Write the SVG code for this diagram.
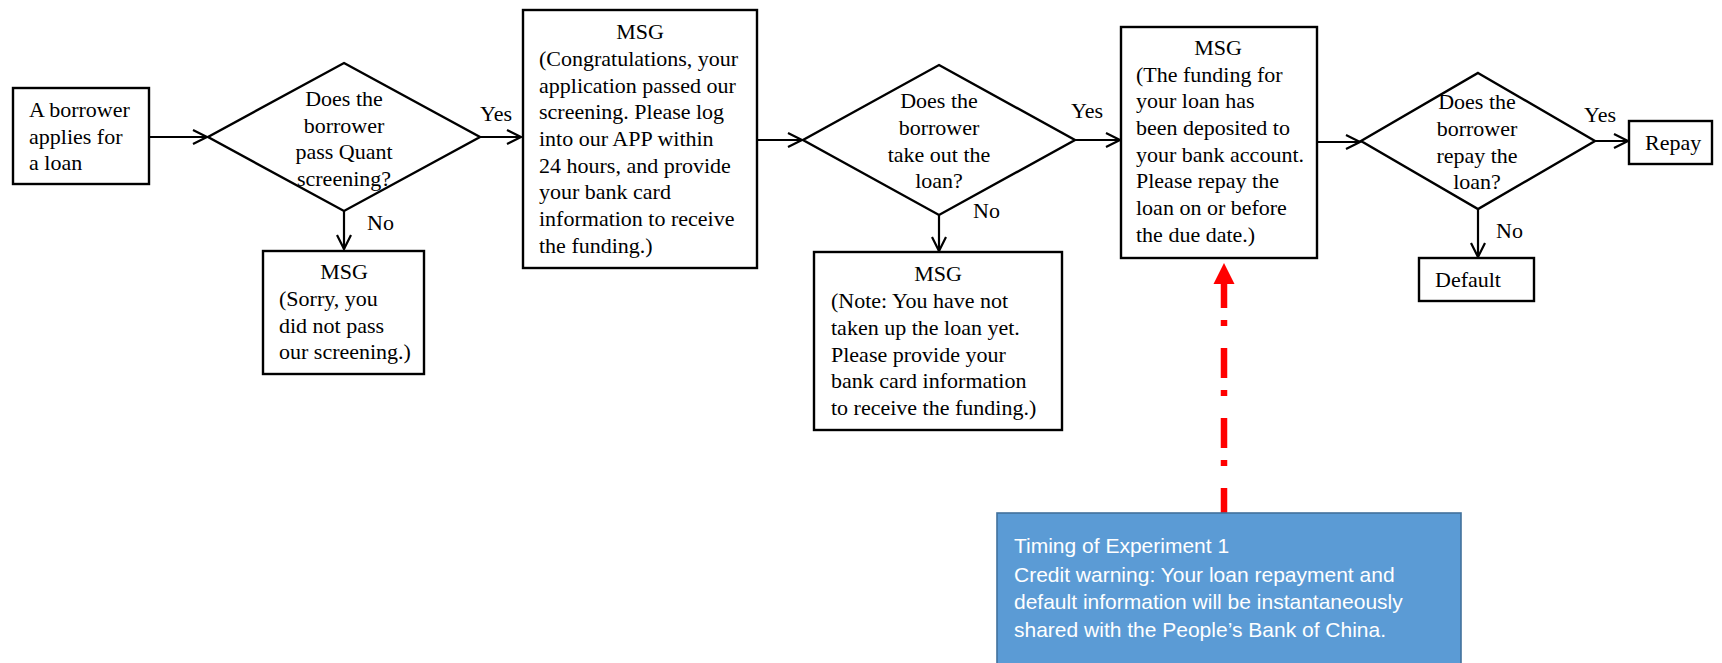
<svg xmlns="http://www.w3.org/2000/svg" width="1722" height="663" viewBox="0 0 1722 663">
<style>
.box{fill:#fff;stroke:#000;stroke-width:2.4}
.t{font-family:"Liberation Serif","Times New Roman",serif;font-size:22px;fill:#000}
.c{text-anchor:middle}
.ln{stroke:#000;stroke-width:2.2;fill:none}
.bt{font-family:"Liberation Sans",Arial,sans-serif;font-size:21px;fill:#fff}
</style>
<defs>
<marker id="ah" markerUnits="userSpaceOnUse" markerWidth="20" markerHeight="20" viewBox="-16 -10 20 20" refX="0" refY="0" orient="auto">
<path d="M-14,-7 L0,0 L-14,7" fill="none" stroke="#000" stroke-width="2.2"/>
</marker>
</defs>
<rect width="1722" height="663" fill="#fff"/>

<g id="connectors">
<path class="ln" d="M149,137 L207,137" marker-end="url(#ah)"/>
<path class="ln" d="M480,137 L521,137" marker-end="url(#ah)"/>
<path class="ln" d="M344,211 L344,249" marker-end="url(#ah)"/>
<path class="ln" d="M757,140 L802,140" marker-end="url(#ah)"/>
<path class="ln" d="M939,215 L939,251" marker-end="url(#ah)"/>
<path class="ln" d="M1075,140 L1120,140" marker-end="url(#ah)"/>
<path class="ln" d="M1317,142 L1360,142" marker-end="url(#ah)"/>
<path class="ln" d="M1595,141 L1628,141" marker-end="url(#ah)"/>
<path class="ln" d="M1478,209 L1478,257" marker-end="url(#ah)"/>
<g id="red-arrow">
<path d="M1224,283 L1224,513" stroke="#ff0000" stroke-width="6.5" fill="none" stroke-dasharray="30 12 6 22" stroke-dashoffset="5"/>
<polygon points="1224,263 1213.5,284 1234.5,284" fill="#ff0000"/>
</g>
</g>

<g id="start">
<rect class="box" x="13" y="88" width="136" height="96"/>
<text class="t" x="29" y="117">A borrower</text>
<text class="t" x="29" y="144">applies for</text>
<text class="t" x="29" y="170">a loan</text>
</g>

<g id="decision1">
<polygon class="box" points="344,63 480,137 344,211 208,137"/>
<text class="t c" x="344" y="106">Does the</text>
<text class="t c" x="344" y="133">borrower</text>
<text class="t c" x="344" y="159">pass Quant</text>
<text class="t c" x="344" y="186">screening?</text>
</g>
<text class="t" x="480" y="121">Yes</text>
<text class="t" x="367" y="230">No</text>

<g id="msg1">
<rect class="box" x="263" y="251" width="161" height="123"/>
<text class="t c" x="344" y="279">MSG</text>
<text class="t" x="279" y="306">(Sorry, you</text>
<text class="t" x="279" y="333">did not pass</text>
<text class="t" x="279" y="359">our screening.)</text>
</g>

<g id="msg2">
<rect class="box" x="523" y="10" width="234" height="258"/>
<text class="t c" x="640" y="39">MSG</text>
<text class="t" x="539" y="66">(Congratulations, your</text>
<text class="t" x="539" y="93">application passed our</text>
<text class="t" x="539" y="119">screening. Please log</text>
<text class="t" x="539" y="146">into our APP within</text>
<text class="t" x="539" y="173">24 hours, and provide</text>
<text class="t" x="539" y="199">your bank card</text>
<text class="t" x="539" y="226">information to receive</text>
<text class="t" x="539" y="253">the funding.)</text>
</g>

<g id="decision2">
<polygon class="box" points="939,65 1075,140 939,215 803,140"/>
<text class="t c" x="939" y="108">Does the</text>
<text class="t c" x="939" y="135">borrower</text>
<text class="t c" x="939" y="162">take out the</text>
<text class="t c" x="939" y="188">loan?</text>
</g>
<text class="t" x="1071" y="118">Yes</text>
<text class="t" x="973" y="218">No</text>

<g id="msg3">
<rect class="box" x="814" y="252" width="248" height="178"/>
<text class="t c" x="938" y="281">MSG</text>
<text class="t" x="831" y="308">(Note: You have not</text>
<text class="t" x="831" y="335">taken up the loan yet.</text>
<text class="t" x="831" y="362">Please provide your</text>
<text class="t" x="831" y="388">bank card information</text>
<text class="t" x="831" y="415">to receive the funding.)</text>
</g>

<g id="msg4">
<rect class="box" x="1121" y="27" width="196" height="231"/>
<text class="t c" x="1218" y="55">MSG</text>
<text class="t" x="1136" y="82">(The funding for</text>
<text class="t" x="1136" y="108">your loan has</text>
<text class="t" x="1136" y="135">been deposited to</text>
<text class="t" x="1136" y="162">your bank account.</text>
<text class="t" x="1136" y="188">Please repay the</text>
<text class="t" x="1136" y="215">loan on or before</text>
<text class="t" x="1136" y="242">the due date.)</text>
</g>

<g id="decision3">
<polygon class="box" points="1478,73 1595,141 1478,209 1361,141"/>
<text class="t c" x="1477" y="109">Does the</text>
<text class="t c" x="1477" y="136">borrower</text>
<text class="t c" x="1477" y="163">repay the</text>
<text class="t c" x="1477" y="189">loan?</text>
</g>
<text class="t" x="1584" y="122">Yes</text>
<text class="t" x="1496" y="238">No</text>

<g id="repay">
<rect class="box" x="1629" y="121" width="83" height="43"/>
<text class="t" x="1645" y="150">Repay</text>
</g>

<g id="default">
<rect class="box" x="1419" y="258" width="115" height="43"/>
<text class="t" x="1435" y="287">Default</text>
</g>

<g id="timing">
<rect x="997" y="513" width="464" height="152" fill="#5b9bd5" stroke="#41719c" stroke-width="1.6"/>
<text class="bt" x="1014" y="553">Timing of Experiment 1</text>
<text class="bt" x="1014" y="582">Credit warning: Your loan repayment and</text>
<text class="bt" x="1014" y="609">default information will be instantaneously</text>
<text class="bt" x="1014" y="637">shared with the People’s Bank of China.</text>
</g>
</svg>
